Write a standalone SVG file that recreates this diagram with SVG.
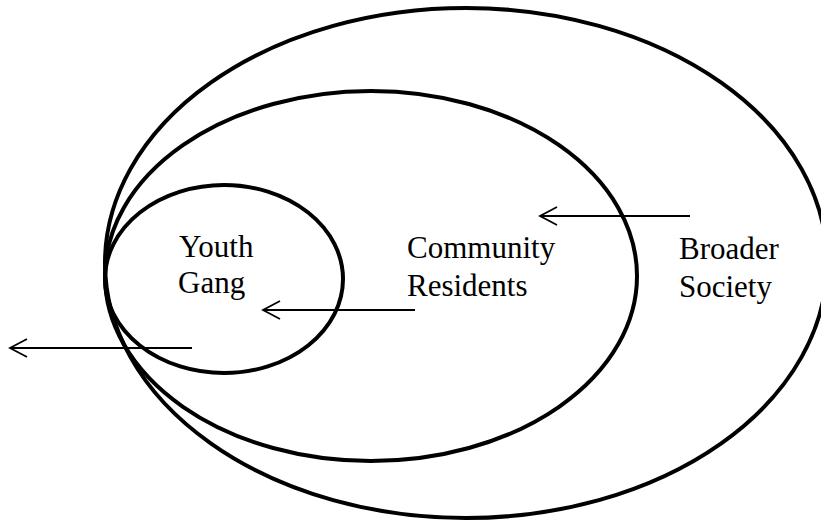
<svg xmlns="http://www.w3.org/2000/svg" width="821" height="524" viewBox="0 0 821 524">
  <style>
    .ring { fill: none; stroke: #000; stroke-width: 4; }
    .link { fill: none; stroke: #000; stroke-width: 1.8; }
    .label { font-family: "Liberation Serif", "Times New Roman", serif; font-size: 31px; fill: #000; }
  </style>
  <defs>
    <marker id="openHead" viewBox="-20 -11 22 22" refX="0" refY="0" markerWidth="22" markerHeight="22" markerUnits="userSpaceOnUse" orient="auto">
      <path d="M-17,-9 L0,0 L-17,9" fill="none" stroke="#000" stroke-width="1.8"/>
    </marker>
  </defs>
  <rect width="821" height="524" fill="#fff"/>

  <g id="broader-society">
    <ellipse class="ring" cx="466" cy="263" rx="361" ry="255"/>
    <text class="label" x="679" y="259">Broader</text>
    <text class="label" x="679" y="297">Society</text>
  </g>

  <g id="community-residents">
    <ellipse class="ring" cx="371" cy="276" rx="266" ry="185"/>
    <text class="label" x="407" y="258">Community</text>
    <text class="label" x="407" y="296">Residents</text>
  </g>

  <g id="youth-gang">
    <ellipse class="ring" cx="224" cy="279" rx="119" ry="94"/>
    <text class="label" x="179" y="257">Youth</text>
    <text class="label" x="178" y="293">Gang</text>
  </g>

  <g id="connectors">
    <line class="link" x1="690" y1="216" x2="540" y2="216" marker-end="url(#openHead)"/>
    <line class="link" x1="415" y1="310" x2="263" y2="310" marker-end="url(#openHead)"/>
    <line class="link" x1="192" y1="348" x2="10" y2="348" marker-end="url(#openHead)"/>
  </g>
</svg>
